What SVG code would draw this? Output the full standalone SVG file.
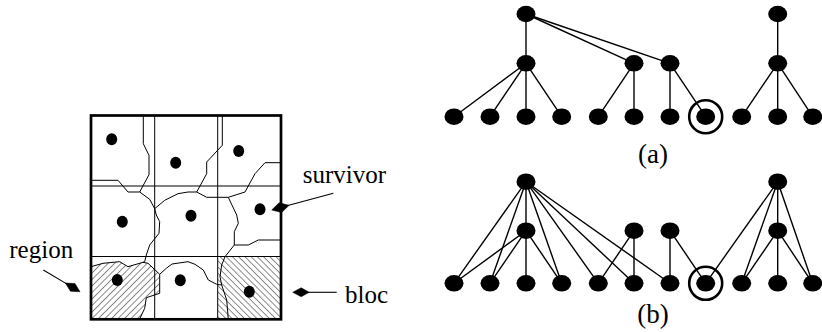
<svg xmlns="http://www.w3.org/2000/svg" width="822" height="332" viewBox="0 0 822 332">
  <style>
    text { font-family: "Liberation Serif", "Times New Roman", Times, serif; fill: #000; }
    .lbl { font-size: 25px; }
    .cap { font-size: 27px; text-anchor: middle; }
    .border { fill: none; stroke: #000; stroke-width: 2.7; }
    .grid { fill: none; stroke: #000; stroke-width: 1; }
    .bnd { fill: none; stroke: #000; stroke-width: 1; stroke-linejoin: round; }
    .dot { fill: #000; }
    .node { fill: #000; }
    .edge { stroke: #000; stroke-width: 1.4; fill: none; }
    .ring { fill: none; stroke: #000; stroke-width: 2.6; }
    .lead { stroke: #000; stroke-width: 1.1; fill: none; }
    .head { fill: #000; stroke: #000; stroke-width: 0.5; stroke-linejoin: miter; }
  </style>
  <defs>
    <!-- "/" hatching for the region, "\" hatching for the bloc -->
    <pattern id="hatchRegion" width="4.6" height="4.6" patternUnits="userSpaceOnUse" patternTransform="rotate(45)">
      <line x1="0" y1="-1" x2="0" y2="5.6" stroke="#000" stroke-width="0.9"/>
    </pattern>
    <pattern id="hatchBloc" width="4.4" height="4.4" patternUnits="userSpaceOnUse" patternTransform="rotate(-45)">
      <line x1="0" y1="-1" x2="0" y2="5.4" stroke="#000" stroke-width="0.9"/>
    </pattern>
  </defs>

  <!-- Left: partition of the grid into blocs and regions -->
  <g id="partition">
    <g id="bloc-hatch">
      <rect x="217.7" y="256.5" width="63.3" height="62.8" fill="url(#hatchBloc)"/>
    </g>
    <g id="region-hatch">
      <path d="M91,266.7 L103,263.3 L119.7,261.7 L128,266.7 L143,262.3 L148,263.3 L159.7,274.3 L159.7,293.3 L146.3,297.7 L144.7,308.3 L139.5,319.3 L91,319.3 Z" fill="url(#hatchRegion)" stroke="#000" stroke-width="1" stroke-linejoin="round"/>
    </g>
    <g id="grid-lines">
      <line class="grid" x1="154.7" y1="115.5" x2="154.7" y2="319.3"/>
      <line class="grid" x1="217.7" y1="115.5" x2="217.7" y2="319.3"/>
      <line class="grid" x1="91" y1="186" x2="281" y2="186"/>
      <line class="grid" x1="91" y1="256.5" x2="281" y2="256.5"/>
    </g>
    <g id="region-boundaries">
      <polyline class="bnd" points="143.3,115.5 143.3,143.7 149,155.3 149,174.7 139.7,192"/>
      <polyline class="bnd" points="91,180.3 118,180.3 128,192 139.7,192"/>
      <polyline class="bnd" points="139.7,192 149.7,199.3 154.7,208.7 156.3,215 159.7,221.7 159,233.3 149.7,245 146.3,255 144.7,261.7 143,262.3"/>
      <polyline class="bnd" points="154.7,208.7 164.7,200.3 178,193.7 188,192 196.7,192 206.7,197.3 228.3,197.3 245,192 255,173.7 265,162.7 281,162.7"/>
      <polyline class="bnd" points="222.3,115.5 222.3,145.3 206.7,162 206.7,173.7 196.7,192"/>
      <polyline class="bnd" points="228.3,197.3 236.7,215 238.3,223.3 234.3,231.7 234.3,245 248.3,245 258.3,240 281,240"/>
      <polyline class="bnd" points="234.3,245 225,256.7 221.7,265 220,276.7 221.7,285 226.7,300 228.3,319.3"/>
      <polyline class="bnd" points="159.7,274.3 166.3,268.3 172,264 188,261.7 195,264.3 203.3,270 208.3,280 216.7,284.3 221.7,285"/>
    </g>
    <g id="survivors">
      <ellipse class="dot" cx="111.7" cy="139.3" rx="5.5" ry="6"/>
      <ellipse class="dot" cx="175.7" cy="162.7" rx="5.5" ry="6"/>
      <ellipse class="dot" cx="238.7" cy="151" rx="5.5" ry="6"/>
      <ellipse class="dot" cx="122.3" cy="221.7" rx="5.5" ry="6"/>
      <ellipse class="dot" cx="191" cy="215.7" rx="5.5" ry="6"/>
      <ellipse class="dot" cx="260" cy="209.3" rx="5.5" ry="6"/>
      <ellipse class="dot" cx="117.3" cy="280" rx="5.5" ry="6"/>
      <ellipse class="dot" cx="180.3" cy="280.3" rx="5.5" ry="6"/>
      <ellipse class="dot" cx="249.3" cy="291.7" rx="5.5" ry="6"/>
    </g>
    <rect class="border" x="91" y="115.5" width="190" height="203.8"/>
  </g>

  <!-- Labels with their leader arrows -->
  <g id="label-survivor">
    <text class="lbl" x="302.7" y="183.3">survivor</text>
  </g>
  <g id="label-region">
    <text class="lbl" x="9.3" y="258">region</text>
  </g>
  <g id="label-bloc">
    <text class="lbl" x="345" y="302.7">bloc</text>
  </g>
  <g id="label-a">
    <text class="cap" x="653" y="163">(a)</text>
  </g>
  <g id="label-b">
    <text class="cap" x="653" y="323">(b)</text>
  </g>

  <g id="connectors">
    <!-- leader arrows -->
    <line class="lead" x1="333.3" y1="193.3" x2="286" y2="206"/>
    <polygon class="head" points="271.7,210 281.7,212.5 289.1,205.3 279.1,202.8"/>
    <line class="lead" x1="336.7" y1="292.3" x2="305" y2="292.3"/>
    <polygon class="head" points="292.7,292.3 301.2,296.8 309.2,292.3 301.2,287.8"/>
    <line class="lead" x1="43.3" y1="270" x2="68" y2="284.6"/>
    <polygon class="head" points="80,291.7 75,283.5 65.4,283 70.4,291.2"/>

    <!-- (a) hierarchy -->
    <line class="edge" x1="526" y1="14" x2="526" y2="63.3"/>
    <line class="edge" x1="526" y1="14" x2="634" y2="63.3"/>
    <line class="edge" x1="526" y1="14" x2="670" y2="63.3"/>
    <line class="edge" x1="526" y1="63.3" x2="454" y2="116.7"/>
    <line class="edge" x1="526" y1="63.3" x2="490" y2="116.7"/>
    <line class="edge" x1="526" y1="63.3" x2="526" y2="116.7"/>
    <line class="edge" x1="526" y1="63.3" x2="561.7" y2="116.7"/>
    <line class="edge" x1="634" y1="63.3" x2="598.3" y2="116.7"/>
    <line class="edge" x1="634" y1="63.3" x2="634" y2="116.7"/>
    <line class="edge" x1="670" y1="63.3" x2="670" y2="116.7"/>
    <line class="edge" x1="670" y1="63.3" x2="705.7" y2="116.7"/>
    <line class="edge" x1="777.7" y1="14" x2="777.7" y2="63.3"/>
    <line class="edge" x1="777.7" y1="63.3" x2="741.7" y2="116.7"/>
    <line class="edge" x1="777.7" y1="63.3" x2="777.7" y2="116.7"/>
    <line class="edge" x1="777.7" y1="63.3" x2="812.7" y2="116.7"/>

    <!-- (b) hierarchy -->
    <line class="edge" x1="526" y1="181.7" x2="454" y2="283.3"/>
    <line class="edge" x1="526" y1="181.7" x2="490" y2="283.3"/>
    <line class="edge" x1="526" y1="181.7" x2="526" y2="230.7"/>
    <line class="edge" x1="526" y1="181.7" x2="561.7" y2="283.3"/>
    <line class="edge" x1="526" y1="181.7" x2="598.3" y2="283.3"/>
    <line class="edge" x1="526" y1="181.7" x2="634" y2="283.3"/>
    <line class="edge" x1="526" y1="181.7" x2="670" y2="283.3"/>
    <line class="edge" x1="526" y1="230.7" x2="454" y2="283.3"/>
    <line class="edge" x1="526" y1="230.7" x2="490" y2="283.3"/>
    <line class="edge" x1="526" y1="230.7" x2="526" y2="283.3"/>
    <line class="edge" x1="526" y1="230.7" x2="561.7" y2="283.3"/>
    <line class="edge" x1="634" y1="230.7" x2="598.3" y2="283.3"/>
    <line class="edge" x1="634" y1="230.7" x2="634" y2="283.3"/>
    <line class="edge" x1="670" y1="230.7" x2="670" y2="283.3"/>
    <line class="edge" x1="670" y1="230.7" x2="705.7" y2="283.3"/>
    <line class="edge" x1="777.7" y1="181.7" x2="705.7" y2="283.3"/>
    <line class="edge" x1="777.7" y1="181.7" x2="741.7" y2="283.3"/>
    <line class="edge" x1="777.7" y1="181.7" x2="777.7" y2="230.7"/>
    <line class="edge" x1="777.7" y1="181.7" x2="812.7" y2="283.3"/>
    <line class="edge" x1="777.7" y1="230.7" x2="741.7" y2="283.3"/>
    <line class="edge" x1="777.7" y1="230.7" x2="777.7" y2="283.3"/>
    <line class="edge" x1="777.7" y1="230.7" x2="812.7" y2="283.3"/>
  </g>

  <!-- (a) nodes -->
  <g id="a-root1"><ellipse class="node" cx="526" cy="14" rx="9.5" ry="8.3"/></g>
  <g id="a-root2"><ellipse class="node" cx="777.7" cy="14" rx="9.5" ry="8.3"/></g>
  <g id="a-mid1"><ellipse class="node" cx="526" cy="63.3" rx="9.5" ry="8.3"/></g>
  <g id="a-mid2"><ellipse class="node" cx="634" cy="63.3" rx="9.5" ry="8.3"/></g>
  <g id="a-mid3"><ellipse class="node" cx="670" cy="63.3" rx="9.5" ry="8.3"/></g>
  <g id="a-mid4"><ellipse class="node" cx="777.7" cy="63.3" rx="9.5" ry="8.3"/></g>
  <g id="a-leaf1"><ellipse class="node" cx="454" cy="116.7" rx="9.5" ry="8.3"/></g>
  <g id="a-leaf2"><ellipse class="node" cx="490" cy="116.7" rx="9.5" ry="8.3"/></g>
  <g id="a-leaf3"><ellipse class="node" cx="526" cy="116.7" rx="9.5" ry="8.3"/></g>
  <g id="a-leaf4"><ellipse class="node" cx="561.7" cy="116.7" rx="9.5" ry="8.3"/></g>
  <g id="a-leaf5"><ellipse class="node" cx="598.3" cy="116.7" rx="9.5" ry="8.3"/></g>
  <g id="a-leaf6"><ellipse class="node" cx="634" cy="116.7" rx="9.5" ry="8.3"/></g>
  <g id="a-leaf7"><ellipse class="node" cx="670" cy="116.7" rx="9.5" ry="8.3"/></g>
  <g id="a-leaf8"><ellipse class="node" cx="705.7" cy="116.7" rx="9.5" ry="8.3"/><circle class="ring" cx="705.7" cy="116.7" r="16.5"/></g>
  <g id="a-leaf9"><ellipse class="node" cx="741.7" cy="116.7" rx="9.5" ry="8.3"/></g>
  <g id="a-leaf10"><ellipse class="node" cx="777.7" cy="116.7" rx="9.5" ry="8.3"/></g>
  <g id="a-leaf11"><ellipse class="node" cx="812.7" cy="116.7" rx="9.5" ry="8.3"/></g>

  <!-- (b) nodes -->
  <g id="b-root1"><ellipse class="node" cx="526" cy="181.7" rx="9.5" ry="8.3"/></g>
  <g id="b-root2"><ellipse class="node" cx="777.7" cy="181.7" rx="9.5" ry="8.3"/></g>
  <g id="b-mid1"><ellipse class="node" cx="526" cy="230.7" rx="9.5" ry="8.3"/></g>
  <g id="b-mid2"><ellipse class="node" cx="634" cy="230.7" rx="9.5" ry="8.3"/></g>
  <g id="b-mid3"><ellipse class="node" cx="670" cy="230.7" rx="9.5" ry="8.3"/></g>
  <g id="b-mid4"><ellipse class="node" cx="777.7" cy="230.7" rx="9.5" ry="8.3"/></g>
  <g id="b-leaf1"><ellipse class="node" cx="454" cy="283.3" rx="9.5" ry="8.3"/></g>
  <g id="b-leaf2"><ellipse class="node" cx="490" cy="283.3" rx="9.5" ry="8.3"/></g>
  <g id="b-leaf3"><ellipse class="node" cx="526" cy="283.3" rx="9.5" ry="8.3"/></g>
  <g id="b-leaf4"><ellipse class="node" cx="561.7" cy="283.3" rx="9.5" ry="8.3"/></g>
  <g id="b-leaf5"><ellipse class="node" cx="598.3" cy="283.3" rx="9.5" ry="8.3"/></g>
  <g id="b-leaf6"><ellipse class="node" cx="634" cy="283.3" rx="9.5" ry="8.3"/></g>
  <g id="b-leaf7"><ellipse class="node" cx="670" cy="283.3" rx="9.5" ry="8.3"/></g>
  <g id="b-leaf8"><ellipse class="node" cx="705.7" cy="283.3" rx="9.5" ry="8.3"/><circle class="ring" cx="705.7" cy="283.3" r="16.5"/></g>
  <g id="b-leaf9"><ellipse class="node" cx="741.7" cy="283.3" rx="9.5" ry="8.3"/></g>
  <g id="b-leaf10"><ellipse class="node" cx="777.7" cy="283.3" rx="9.5" ry="8.3"/></g>
  <g id="b-leaf11"><ellipse class="node" cx="812.7" cy="283.3" rx="9.5" ry="8.3"/></g>
</svg>
